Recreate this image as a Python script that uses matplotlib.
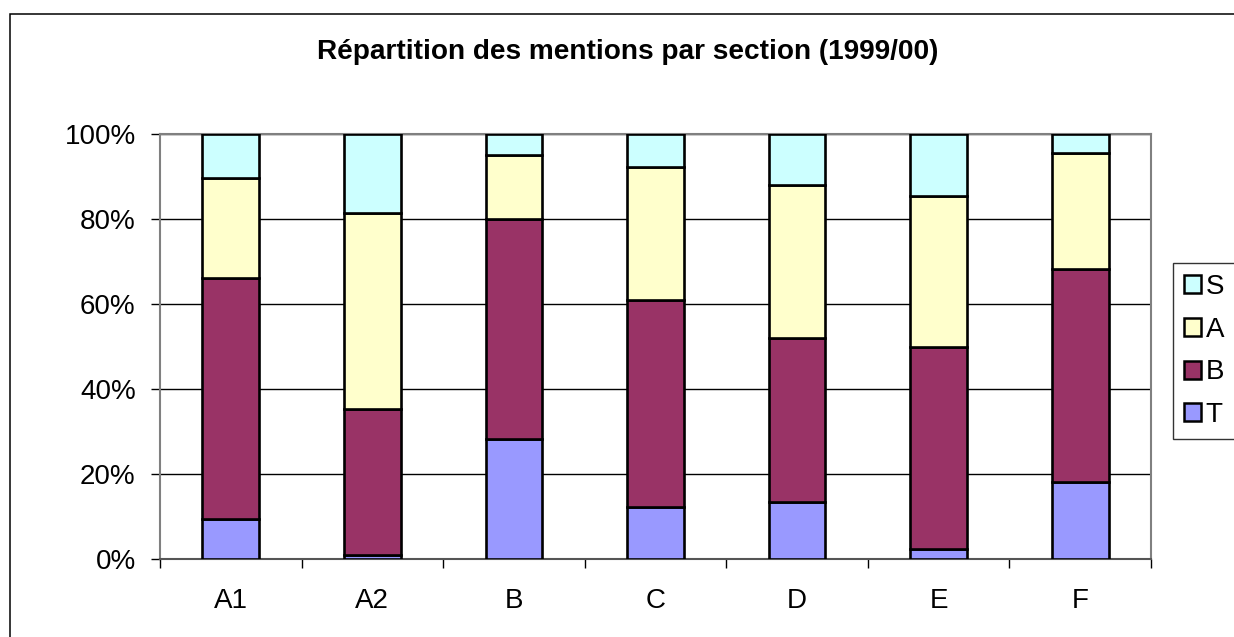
import matplotlib
matplotlib.use("Agg")
import matplotlib.pyplot as plt
from matplotlib.patches import Rectangle, Patch
from matplotlib.ticker import FixedLocator
import numpy as np

plt.rcParams['font.family'] = ['Liberation Sans', 'DejaVu Sans']

# Données (en %)
sections = ['A1', 'A2', 'B', 'C', 'D', 'E', 'F']
mention_T = [9.5, 1.0, 28.3, 12.2, 13.5, 2.4, 18.1]
mention_B = [56.6, 34.3, 51.8, 48.8, 38.6, 47.5, 50.2]
mention_A = [23.5, 46.2, 15.0, 31.2, 35.9, 35.4, 27.2]
mention_S = [10.4, 18.5, 4.9, 7.8, 12.0, 14.7, 4.5]

series = [('T', mention_T, '#9999FF'),
          ('B', mention_B, '#993366'),
          ('A', mention_A, '#FFFFCC'),
          ('S', mention_S, '#CCFFFF')]

W, H = 1234, 637
fig = plt.figure(figsize=(W / 100, H / 100), dpi=100)

# zone de tracé (en pixels)
left, right, top, bottom = 160, 1151, 134, 559
ax = fig.add_axes([left / W, 1 - bottom / H, (right - left) / W, (bottom - top) / H])

x = np.arange(len(sections))
base = np.zeros(len(sections))
handles = []
for name, vals, col in series:
    vals = np.array(vals)
    ax.bar(x, vals, 0.4, bottom=base, color=col, edgecolor='black',
           linewidth=1.9, zorder=3)
    base += vals
    handles.append(Patch(facecolor=col, edgecolor='black', linewidth=1.8, label=name))

ax.set_xlim(-0.5, len(sections) - 0.5)
ax.set_ylim(0, 100)
ax.set_yticks([0, 20, 40, 60, 80, 100])
ax.set_yticklabels(['0%', '20%', '40%', '60%', '80%', '100%'])
ax.yaxis.grid(True, color='black', linewidth=1.0, zorder=0)
ax.set_axisbelow(True)

ax.set_xticks(x)
ax.set_xticklabels(sections)
ax.xaxis.set_minor_locator(FixedLocator(np.arange(-0.5, len(sections), 1.0)))
ax.tick_params(axis='x', which='major', length=0, pad=21, labelsize=20)
ax.tick_params(axis='x', which='minor', length=6.5, width=1.0, color='black', direction='out')
ax.tick_params(axis='y', length=6.5, width=1.0, color='black', direction='out', pad=11, labelsize=20)

for s in ax.spines.values():
    s.set_color('#808080')
    s.set_linewidth(1.5)
ax.spines['bottom'].set_color('#555555')

# titre
fig.text(628 / W, 1 - 52 / H, 'Répartition des mentions par section (1999/00)',
         ha='center', va='center', fontsize=20.2, fontweight='bold')

# légende
leg = fig.legend(handles[::-1], [h.get_label() for h in handles[::-1]],
                 loc='upper left', bbox_to_anchor=(1173 / W, 1 - 263 / H),
                 fontsize=20, frameon=True, fancybox=False, borderaxespad=0,
                 handlelength=0.62, handleheight=0.62, handletextpad=0.15,
                 labelspacing=0.6, borderpad=0.4)
leg.get_frame().set_edgecolor('black')
leg.get_frame().set_linewidth(1.0)

# cadre extérieur du graphique
fig.patches.append(Rectangle((10 / W, -0.1), 1.2, 1 - 14 / H + 0.1,
                             transform=fig.transFigure, fill=False,
                             edgecolor='black', linewidth=1.1))

fig.savefig('out.png', dpi=100)
